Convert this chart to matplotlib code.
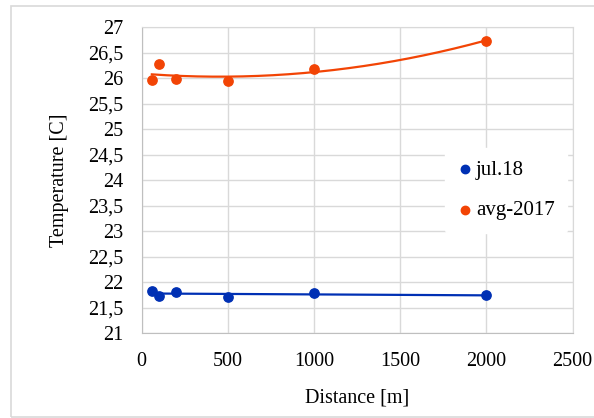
import numpy as np
import matplotlib.pyplot as plt
from matplotlib.patches import Rectangle

# values
distance = [60, 100, 200, 500, 1000, 2000]
temp_jul18 = [21.82, 21.73, 21.81, 21.70, 21.78, 21.74]
temp_avg2017 = [25.96, 26.27, 25.98, 25.95, 26.17, 26.73]

x_ticks = [0, 500, 1000, 1500, 2000, 2500]
y_ticks = [21, 21.5, 22, 22.5, 23, 23.5, 24, 24.5, 25, 25.5, 26, 26.5, 27]

blue = '#0030b4'
orange = '#f24405'

plt.rcParams['font.family'] = ['Liberation Serif', 'DejaVu Serif']

fig = plt.figure(figsize=(5.94, 4.18), dpi=100)
ax = fig.add_axes([141.5 / 594, 1 - 333 / 418, (572.5 - 141.5) / 594, (333 - 27) / 418])

# outer chart border
fig.patches.append(Rectangle((11 / 594, 1 / 418), 1.2, (412 - 1) / 418, transform=fig.transFigure,
                             fill=False, edgecolor='#d9d9d9', linewidth=1.2))

# trendlines (linear for jul.18, 2nd order for avg-2017), as in Excel
xs = np.linspace(min(distance), max(distance), 200)
p1 = np.polyfit(distance, temp_jul18, 1)
p2 = np.polyfit(distance, temp_avg2017, 2)
ax.plot(xs, np.polyval(p1, xs), color=blue, lw=1.6, zorder=2)
ax.plot(xs, np.polyval(p2, xs), color=orange, lw=1.6, zorder=2)

ax.scatter(distance, temp_jul18, s=45, color=blue, label='jul.18', zorder=3)
ax.scatter(distance, temp_avg2017, s=45, color=orange, label='avg-2017', zorder=3)

ax.set_xlim(0, 2500)
ax.set_ylim(21, 27)
ax.set_xticks(x_ticks)
ax.set_yticks(y_ticks)
ax.set_yticklabels([('%g' % v).replace('.', ',') for v in y_ticks])
ax.tick_params(length=0, labelsize=14.5)
ax.tick_params(axis='y', pad=13)
ax.tick_params(axis='x', pad=14)
ax.grid(True, color='#d9d9d9', lw=1)
ax.set_axisbelow(True)
for s in ax.spines.values():
    s.set_color('#d9d9d9')
ax.spines['left'].set_color('#bfbfbf')
ax.spines['bottom'].set_color('#bfbfbf')

ax.set_xlabel('Distance [m]', fontsize=14.5, labelpad=12)
ax.set_ylabel('Temperature [C]', fontsize=14.5, labelpad=14)

leg = ax.legend(loc='upper left', bbox_to_anchor=(0.679, 0.64), frameon=True, fontsize=15,
                markerscale=0.9, handlelength=0.8, handletextpad=0.1, labelspacing=1.0,
                borderpad=0.6)
leg.get_frame().set_facecolor('white')
leg.get_frame().set_edgecolor('white')
leg.get_frame().set_alpha(1)

plt.savefig('out.png', dpi=100)
